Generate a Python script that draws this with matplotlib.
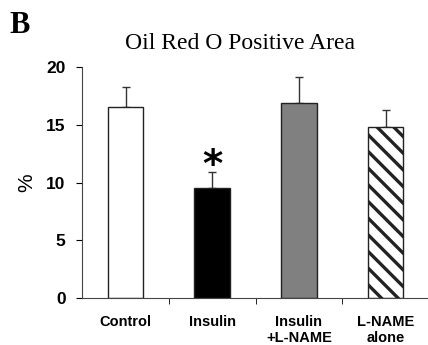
import matplotlib.pyplot as plt
import numpy as np

groups = ['Control', 'Insulin', 'Insulin\n+L-NAME', 'L-NAME\nalone']
area = [16.5, 9.5, 16.9, 14.8]
sem = [1.8, 1.4, 2.2, 1.5]
colors = ['white', 'black', '#808080', 'white']
hatches = ['', '', '', '\\\\']

plt.rcParams['hatch.linewidth'] = 2.4

fig = plt.figure(figsize=(4.28, 3.45), dpi=100)
ax = fig.add_axes([0.192, 0.136, 0.81, 0.67])

x = np.arange(len(groups))
bars = ax.bar(x, area, width=0.41, color=colors, edgecolor='#222222',
              linewidth=1.0, zorder=2)
for b, h in zip(bars, hatches):
    b.set_hatch(h)
# upper error bars only
ax.errorbar(x, area, yerr=[np.zeros(len(sem)), sem], fmt='none',
            ecolor='#333333', elinewidth=1.0, capsize=3, capthick=1.0, zorder=1)

ax.text(x[1], area[1] + sem[1] - 1.1, '*', ha='center', va='bottom',
        fontsize=28, fontweight='bold', family='DejaVu Sans')

ax.set_xlim(-0.5, 3.5)
ax.set_ylim(0, 20)
ax.set_yticks([0, 5, 10, 15, 20])
ax.set_xticks(x)
ax.set_xticklabels(groups, fontsize=10.5, fontweight='bold',
                   family='Liberation Sans', linespacing=1.25)
ax.set_xticks([0.5, 1.5, 2.5], minor=True)
ax.tick_params(axis='x', which='major', length=0, pad=12)
ax.tick_params(axis='x', which='minor', length=4, direction='out')
ax.tick_params(axis='y', length=4, labelsize=12.5, pad=8)
for t in ax.get_yticklabels():
    t.set_fontweight('bold')
    t.set_family('Liberation Sans')

ax.spines['top'].set_visible(False)
ax.spines['right'].set_visible(False)
ax.spines['left'].set_color('#444444')
ax.spines['bottom'].set_color('#444444')

ax.set_ylabel('%', fontsize=15, family='Liberation Sans', labelpad=7)
fig.text(0.56, 0.875, 'Oil Red O Positive Area', ha='center', va='center',
         fontsize=17, family='Liberation Serif')
fig.text(0.022, 0.925, 'B', ha='left', va='center', fontsize=22,
         fontweight='bold', family='Liberation Serif')

fig.savefig('out.png', dpi=100)
